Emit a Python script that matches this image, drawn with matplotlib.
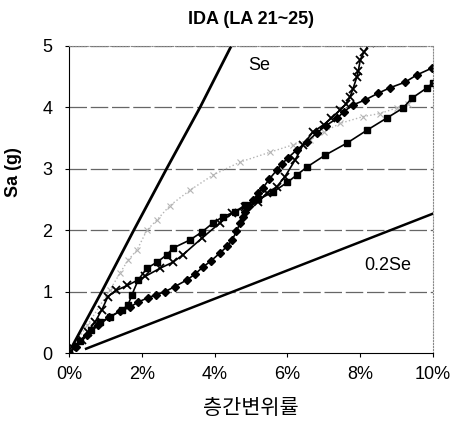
import matplotlib
matplotlib.use('Agg')
import matplotlib.pyplot as plt
from matplotlib.ticker import FuncFormatter

plt.rcParams['font.family'] = ['Liberation Sans', 'Noto Sans CJK KR', 'DejaVu Sans']

# Design spectrum lines
se_x = [0.08, 0.9, 1.78, 2.68, 3.6, 4.5]
se_y = [0.1, 1.0, 2.0, 3.0, 4.0, 5.05]
se02_x = [0.47, 4.42, 10.0]
se02_y = [0.07, 0.98, 2.27]

# IDA curves (drift %, Sa)
sq_x = [0.0, 0.3, 0.6, 0.85, 1.13, 1.45, 1.62, 1.73, 1.9, 2.14, 2.42, 2.69, 2.86,
        3.32, 3.65, 3.96, 4.23, 4.56, 4.84, 5.2, 5.6, 6.0, 6.26, 6.54, 7.03,
        7.64, 8.19, 8.74, 9.18, 9.42, 9.84, 10.0]
sq_y = [0.0, 0.2, 0.38, 0.5, 0.59, 0.7, 0.78, 0.95, 1.19, 1.38, 1.48, 1.6, 1.71,
        1.84, 1.97, 2.12, 2.22, 2.3, 2.41, 2.5, 2.62, 2.78, 2.9, 3.03, 3.22,
        3.42, 3.63, 3.83, 3.99, 4.15, 4.32, 4.4]

dm_x = [0.0, 0.2, 0.5, 0.8, 1.1, 1.4, 1.68, 1.9, 2.17, 2.4, 2.64, 2.9, 3.24, 3.45,
        3.68, 3.9, 4.15, 4.35, 4.48, 4.6, 4.7, 4.78, 4.84, 4.95, 5.05, 5.2, 5.33,
        5.5, 5.71, 5.85, 6.02, 6.26, 6.54, 6.8, 7.05, 7.36, 7.55, 7.8, 8.13, 8.49,
        8.82, 9.23, 9.56, 9.97]
dm_y = [0.0, 0.1, 0.3, 0.45, 0.58, 0.68, 0.75, 0.83, 0.9, 0.95, 1.0, 1.08, 1.19, 1.28,
        1.4, 1.5, 1.63, 1.74, 1.84, 1.98, 2.12, 2.22, 2.3, 2.4, 2.49, 2.6, 2.69,
        2.83, 2.98, 3.08, 3.18, 3.31, 3.44, 3.58, 3.7, 3.82, 3.93, 4.04, 4.12, 4.23,
        4.32, 4.41, 4.53, 4.64]

cr_x = [0.08, 0.36, 0.52, 0.71, 0.9, 1.07, 1.3, 1.6, 2.1, 2.5, 2.86, 3.13, 3.65,
        4.15, 4.48, 4.84, 5.19, 5.44, 5.71, 5.93, 6.21, 6.43, 6.7, 7.0, 7.2, 7.45,
        7.6, 7.72, 7.8, 7.91, 7.95, 8.0, 8.1, 8.27]
cr_y = [0.1, 0.21, 0.35, 0.5, 0.7, 0.92, 1.02, 1.1, 1.25, 1.38, 1.48, 1.6, 1.87,
        2.12, 2.28, 2.38, 2.46, 2.6, 2.71, 2.87, 3.14, 3.39, 3.6, 3.72, 3.82, 3.96,
        4.05, 4.17, 4.3, 4.5, 4.6, 4.77, 4.9, 5.05]

gr_x = [0.0, 0.5, 1.13, 1.4, 1.62, 1.87, 2.14, 2.42, 2.77, 3.32, 3.96, 4.7, 5.52,
        6.15, 6.62, 7.0, 7.45, 8.08, 8.54, 9.0, 9.3]
gr_y = [0.0, 0.45, 1.03, 1.3, 1.51, 1.68, 2.0, 2.17, 2.4, 2.65, 2.9, 3.11, 3.27,
        3.39, 3.47, 3.6, 3.74, 3.85, 3.9, 3.99, 4.05]

fig = plt.figure(figsize=(4.57, 4.25), dpi=100)
ax = fig.add_axes([0.151, 0.1694, 0.7965, 0.7224])

for yv in [1, 2, 3, 4, 5]:
    ax.axhline(yv, color='#666666', lw=0.9, ls=(0, (14, 3)), zorder=0)

ax.plot(gr_x, gr_y, color='#b4b4b4', lw=1.0, ls=':', marker='x', ms=4, mew=0.8)
ax.plot(se_x, se_y, color='black', lw=2.0)
ax.plot(se02_x, se02_y, color='black', lw=1.8)
ax.plot(sq_x, sq_y, color='black', lw=1.2, marker='s', ms=5)
ax.plot(dm_x, dm_y, color='black', lw=1.2, marker='D', ms=4.5)
ax.plot(cr_x, cr_y, color='black', lw=1.2, marker='x', ms=6, mew=1.3)

ax.text(4.92, 4.68, 'Se', fontsize=13, va='center')
ax.text(8.1, 1.42, '0.2Se', fontsize=13, va='center')

ax.set_xlim(0, 10)
ax.set_ylim(0, 5)
ax.set_xticks([0, 2, 4, 6, 8, 10])
ax.set_yticks([0, 1, 2, 3, 4, 5])
ax.xaxis.set_major_formatter(FuncFormatter(lambda v, p: f'{v:.0f}%'))
ax.tick_params(labelsize=13, length=3, direction='out')
ax.tick_params(axis='y', pad=9)
ax.tick_params(axis='x', pad=6)

ax.spines['left'].set_color('black')
ax.spines['bottom'].set_color('black')
for side in ['top', 'right']:
    ax.spines[side].set_color('#888888')
    ax.spines[side].set_linestyle(':')

ax.set_title('IDA (LA 21~25)', fontsize=13, fontweight='bold', pad=16)
ax.set_ylabel('Sa (g)', fontsize=13, fontweight='bold')
ax.yaxis.set_label_coords(-0.13, 0.59)
ax.set_xlabel('층간변위률', fontsize=15, labelpad=12)

fig.savefig('out.png', dpi=100)
